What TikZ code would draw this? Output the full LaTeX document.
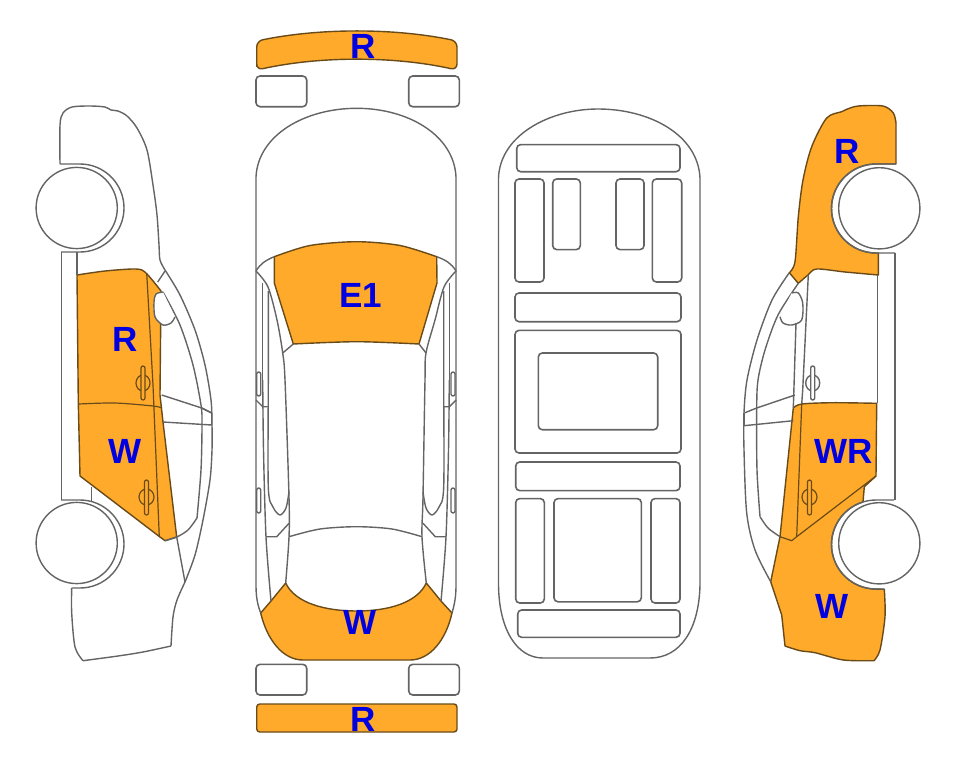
\documentclass[tikz,border=0pt]{standalone}
\usepackage{fontspec}
\setmainfont{Liberation Sans}
\usepackage{xcolor}
\definecolor{dmorange}{RGB}{255,170,42}
\definecolor{dmedge}{RGB}{105,75,25}
\definecolor{dmline}{RGB}{100,100,100}
\definecolor{dmblue}{RGB}{0,0,225}
\tikzstyle{carline} = [line width=1.4pt,draw=dmline,line join=round]
\tikzstyle{panel} = [line width=1.4pt,draw=dmedge,fill=dmorange,line join=round]
\tikzstyle{seam} = [line width=1.2pt,draw=dmedge,line join=round]
\tikzstyle{wheel} = [line width=1.4pt,draw=dmline,fill=white]
\tikzstyle{boxline} = [line width=1.6pt,draw=dmline,rounded corners=4pt]
\tikzstyle{dmg} = [text=dmblue,font=\fontsize{35}{35}\selectfont\bfseries,inner sep=0pt]
\begin{document}
\begin{tikzpicture}[x=1pt,y=-1pt]
\useasboundingbox (0,0) rectangle (963,768);
% Left side view - panels
\draw[panel] plot[smooth] coordinates {(77,275)(105,271)(136,269)(146,273)(161,291)} -- (160,395) -- (163,422) -- (176.7,537) -- (165,540.7) -- (160,537) -- (80,476) -- (78.3,403) -- cycle;
\draw[seam] (146.7,273) -- (153,385) -- (159.3,537);
\draw[seam] plot[smooth] coordinates {(79,404)(115,403)(153,406)(162,408)};
% Left side view - body
\draw[carline] plot[smooth] coordinates {(60,164)(60,125)(63,113)(72,107)(90,106)(105,107)(111,110)(118,111)(127,116)(137,128)(147,150)(153,185)(157,215)(159,245)(160,260)(165,270)};
\draw[carline] plot[smooth] coordinates {(165,270)(180,295)(195,330)(205,365)(211,400)(212,425)(212,450)(210,480)(203,520)(195,555)(185,582)};
\draw[carline] plot[smooth] coordinates {(185,582)(177,600)(173,617)(171,646)};
\draw[carline] plot[smooth] coordinates {(171,646)(143,652)(118,656)(83,660.7)};
\draw[carline] plot[smooth] coordinates {(83,660.7)(75,647)(71.7,613)(71.7,588)};
\draw[carline] (165,271) -- (157.7,282);
\draw[carline] plot[smooth] coordinates {(163,292)(180,325)(193,365)(201,405)(202,425)(201,470)(197,518)};
\draw[carline] plot[smooth] coordinates {(197,518)(188,530)(176.7,537)(165,540.7)};
\draw[carline,fill=white] plot[smooth] coordinates {(163,292)(156,294)(154,302)(155,317)(163,325)(171,323)(175,317)};
\draw[carline] (161.7,395) -- (201.7,408) -- (211.7,413);
\draw[carline] (163,422) -- (211.7,425);
\draw[carline] (201.7,408) -- (211.7,413) -- (211.7,425);
\draw[carline] (176.7,537) -- (185,582);
\draw[carline] (61.5,252) -- (61.5,500);
\draw[carline] (77,252) -- (77,275);
\draw[carline] (91.7,487) -- (91.7,502);
% Left side view - handles
\draw[seam] (143,383) ellipse (7 and 8);
\draw[seam,fill=dmorange,rounded corners=2pt] (141,366) rectangle (145,400);
\draw[seam] (146.5,497) ellipse (7.5 and 8);
\draw[seam,fill=dmorange,rounded corners=2pt] (144.5,480) rectangle (148.5,515);
% Left side view - wheels
\draw[carline] (60,164) -- (80,164) arc[start angle=-90,end angle=90,radius=44] -- (61,252);
\draw[carline] (61,500) -- (80,500) arc[start angle=-90,end angle=90,radius=44] -- (71.7,588);
\draw[wheel] (76.7,208) circle (40.6);
\draw[wheel] (76.7,543) circle (40.6);

% Top view - bumpers and lamps
\draw[panel,rounded corners=6pt] (256.7,70) -- (256.7,41) .. controls (320,28) and (394,28) .. (457,41) -- (457,70) .. controls (394,56) and (320,56) .. (256.7,70) -- cycle;
\draw[panel,rounded corners=3pt] (256.7,704) rectangle (457,732);
\draw[boxline] (256,76) rectangle (306.7,106.7);
\draw[boxline] (408.7,76) rectangle (459.3,106.7);
\draw[boxline] (256,664.3) rectangle (306.7,695);
\draw[boxline] (408.7,664.3) rectangle (459.3,695);
% Top view - panels
\draw[panel] plot[smooth] coordinates {(274.3,256.7)(310,245.5)(356.7,241.7)(400,245.5)(436.7,256.7)} -- (437,283) -- plot[smooth] coordinates {(419,344)(356.7,341.7)(293.3,344)} -- (274.3,283) -- cycle;
\draw[panel] (260.7,613) -- (271,601) -- (285.7,583) .. controls (295,603) and (325,611) .. (356.7,611) .. controls (388,611) and (417,603) .. (426.3,583) -- (441,601) -- (452,613) .. controls (446,640) and (430,660) .. (410,660) -- (303,660) .. controls (283,660) and (267,640) .. (260.7,613) -- cycle;
% Top view - body
\draw[carline] (256,271) -- (256,177) .. controls (258,135) and (305,108.3) .. (356.7,108.3) .. controls (408,108.3) and (454,135) .. (456,177) -- (456,268);
\draw[carline] (256,271) -- (256,400) -- (256,586) .. controls (256,598) and (258,606) .. (260.7,613);
\draw[carline] (456,268) -- (456,400) -- (456,586) .. controls (456,598) and (454,606) .. (452,613);
\draw[carline] (256,271) .. controls (260,264) and (266,260) .. (274.3,256.7);
\draw[carline] (456,271) .. controls (452,264) and (446,260) .. (436.7,256.7);
\draw[carline] plot[smooth] coordinates {(256,271)(268,287)(277,320)(282.7,353)(285,380)(289,497)(289,537)(285.7,583)};
\draw[carline] plot[smooth] coordinates {(456,271)(444,287)(435,320)(426,353)(425,380)(423,497)(422,537)(426.3,583)};
\draw[carline] (293.3,344) -- (282.7,353);
\draw[carline] (419,344) -- (426,353);
\draw[carline] (262.7,283) -- (262.7,380);
\draw[carline] (449.3,283) -- (449.3,380);
\draw[carline] plot[smooth] coordinates {(262.7,380)(263.5,450)(266,537)(271,601)};
\draw[carline] plot[smooth] coordinates {(449.3,380)(448.5,450)(446,537)(441,601)};
\draw[carline] plot[smooth] coordinates {(268.3,291)(268.3,380)(268.3,487)(273,507)(280,515)(286,508)(289,492)};
\draw[carline] plot[smooth] coordinates {(443.7,291)(443.7,380)(443.7,487)(439,507)(432,515)(426,508)(423,492)};
\draw[carline] (256,400) -- (262.7,406.7) -- (268.3,406.7);
\draw[carline] (456,400) -- (449.3,406.7) -- (443.7,406.7);
\draw[carline] (266,536.7) -- (276.7,536.7) -- (289,523.3);
\draw[carline] (446,536.7) -- (435.3,536.7) -- (423,523.3);
\draw[carline] plot[smooth] coordinates {(289,536.7)(320,529)(356.7,526.7)(392,529)(422,536.7)};
\draw[carline,rounded corners=2pt] (256.7,372) rectangle (260.7,396);
\draw[carline,rounded corners=2pt] (256.7,488) rectangle (260.7,513);
\draw[carline,rounded corners=2pt] (451,372) rectangle (455,396);
\draw[carline,rounded corners=2pt] (451,488) rectangle (455,513);

% Underside view
\draw[carline] (498.5,178) .. controls (500,135) and (550,109) .. (598,109) .. controls (650,109) and (698,135) .. (700,178) -- (700,585) .. controls (699,630) and (680,658) .. (650,658) -- (543,658) .. controls (517,658) and (499,630) .. (498.5,585) -- cycle;
\draw[boxline] (516.7,144.6) rectangle (680,171.7);
\draw[boxline] (515,179) rectangle (544,282);
\draw[boxline] (552.7,179) rectangle (580.3,249.6);
\draw[boxline] (616,179) rectangle (644,249.6);
\draw[boxline] (652.3,179) rectangle (681.7,282);
\draw[boxline] (515,293) rectangle (681,321.7);
\draw[boxline] (515,330.4) rectangle (681,453);
\draw[boxline] (538.3,353) rectangle (657.7,429.7);
\draw[boxline] (515.7,462) rectangle (680,490.6);
\draw[boxline] (515.7,498.6) rectangle (544.3,603);
\draw[boxline] (554,498.6) rectangle (641.3,601.8);
\draw[boxline] (651,498.6) rectangle (680,603);
\draw[boxline] (517.7,610) rectangle (680,637.3);

% Right side view - panels
\draw[panel] plot[smooth] coordinates {(789.3,272.7)(795,261.7)(798.3,216.7)(803,180)(811.7,146.7)(826.7,118)(841.7,111.7)(846.7,109.3)(858.3,106)(883,106)(893.3,113)(896,123)} -- (896,164) -- (876,164) arc[start angle=-90,end angle=-270,radius=44.5] -- (878.3,253) -- (878.3,275) -- plot[smooth] coordinates {(878.3,275)(845,272)(816.7,269)(808,275)(798.3,283.3)} -- cycle;
\draw[panel] plot[smooth] coordinates {(793.3,408)(801.7,404)(833.3,402.7)(876.7,403.3)} -- (876,476) -- (864.3,486.7) -- (863,502) arc[start angle=253,end angle=90,radius=44.5] -- (884.3,589.3) -- plot[smooth] coordinates {(884.3,589.3)(885,616.7)(880,650)(874,660.7)} -- plot[smooth] coordinates {(874,660.7)(843.3,660)(815,652.7)(800,650.7)(785,646)} -- (781.7,615) -- (770.7,581.7) -- (780,536.7) -- cycle;
\draw[seam] (876,476) -- (796.7,536.7) -- (791.7,540.7) -- (780,536.7);
\draw[seam] (801.7,404) -- (796.7,536.7);
\draw[carline] (808.3,275) -- (802.7,390) -- (801.7,404);
% Right side view - body
\draw[carline] plot[smooth] coordinates {(789.3,272.7)(772,300)(757,340)(747,380)(744,413)(744,450)(746.7,513)(755,550)(770.7,581.7)};
\draw[carline] plot[smooth] coordinates {(798.3,283.3)(778,315)(765,350)(758,380)(756.7,408)(757,470)(760,516.7)};
\draw[carline] plot[smooth] coordinates {(760,516.7)(768,528)(780,536.7)};
\draw[carline,fill=white] plot[smooth] coordinates {(791.7,293)(798.3,293)(802.7,303)(801.7,320)(791.7,325)(783,323)(780,316.7)};
\draw[carline] (745,412.7) -- (756.7,408) -- (795,395);
\draw[carline] (744,425.7) -- (793.3,420.7);
\draw[carline] (744,412.7) -- (744,425.7);
\draw[carline] (796,323) -- (793.3,408);
\draw[carline] (877.7,275) -- (877.7,403);
\draw[carline] (895,253) -- (895,500);
% Right side view - handles
\draw[carline] (812.7,383) ellipse (7 and 8);
\draw[carline,fill=white,rounded corners=2pt] (810.7,366) rectangle (814.7,400);
\draw[seam] (809.5,497) ellipse (7.5 and 8);
\draw[seam,fill=dmorange,rounded corners=2pt] (807.5,480) rectangle (811.5,515);
% Right side view - wheels
\draw[carline] (896,164) -- (876,164) arc[start angle=-90,end angle=-270,radius=44.5] -- (895,253);
\draw[carline] (894,500) -- (876,500) arc[start angle=-90,end angle=-270,radius=44.5] -- (884.3,589);
\draw[wheel] (879.3,208.3) circle (40.6);
\draw[wheel] (879.3,543.3) circle (40.6);

% Damage codes
\node[dmg] (frontbumper) at (363,46) {R};
\node[dmg] (rearbumper) at (363,719) {R};
\node[dmg] (bonnet) at (361,295) {E1};
\node[dmg] (bootlid) at (360,622) {W};
\node[dmg] (leftfront) at (125,339) {R};
\node[dmg] (leftrear) at (125,451) {W};
\node[dmg] (rightwing) at (847,151) {R};
\node[dmg] (rightdoor) at (844,451) {WR};
\node[dmg] (rightquarter) at (832,606) {W};
\end{tikzpicture}
\end{document}
